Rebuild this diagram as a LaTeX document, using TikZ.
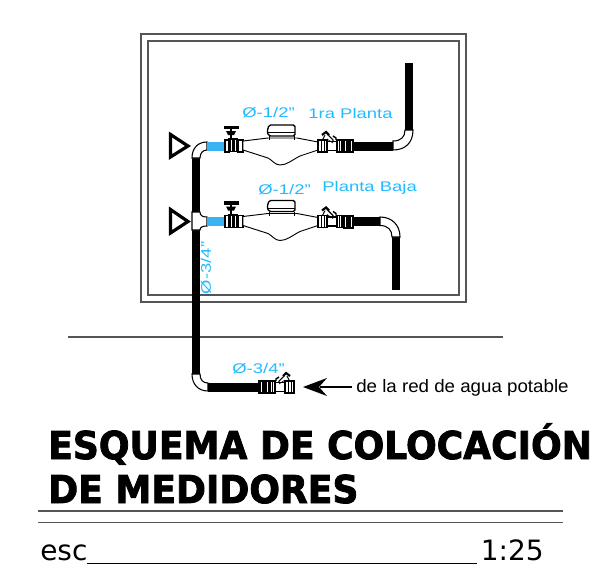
\documentclass[tikz,border=0pt]{standalone}
\usepackage{fontspec}
\setmainfont{Liberation Sans}
\newfontfamily\vfont{DejaVu Sans}
\newfontfamily\titlefont[FakeBold=2.2]{DejaVu Sans Bold}
\definecolor{cyanlabel}{HTML}{22BBFF}
\definecolor{cyanpipe}{HTML}{39B4F0}
\definecolor{rulegray}{HTML}{555555}
\tikzset{
  x=0.75pt,y=-0.75pt,
  thin line/.style={line width=0.7pt,black},
  fitting/.style={draw=black,fill=white,line width=0.8pt},
  pipeblack/.style={fill=black,draw=none},
  bluelabel/.style={text=cyanlabel,font=\fontsize{10.5}{11}\selectfont,inner sep=0pt,xscale=1.32},
  symbol/.style={draw=black,line width=2.4pt,miter limit=10,fill=white},
  pics/strainer/.style={code={
    \draw[fitting] (4,-5) -- (8,-13) -- (15,-6) -- (15,-4) -- (9,-4) -- cycle;
    \draw[fitting] (9,-4.5) rectangle (19,4.5);
    \draw[line width=0.5pt] (9,-7) -- (15,-3);
    \draw[fitting,line width=1.6pt] (4,-11) -- (8,-14) -- (11,-11);
    \draw[fitting,line width=1.1pt] (15,-10) -- (18,-8) -- (18,-6);
    \draw[fitting] (0,-6) rectangle (9,6);
    \draw[thin line] (3,-6) -- (3,6) (6,-6) -- (6,6);
    \draw[fitting] (19,-6) rectangle (24,6);
    \draw[thin line] (21.5,-6) -- (21.5,6);
    \fill[black] (25,-7) rectangle (36,7);
    \draw[white,line width=0.4pt] (27,-5) -- (27,5) (33,-5) -- (33,5);
  }},
  pics/meterset/.style={code={
    \fill[cyanpipe] (0,-4.5) rectangle (18,4.5);
    % gate valve
    \draw[fitting] (18,-6) rectangle (22,6);
    \fill[black] (21,-8) rectangle (31,6);
    \draw[white,line width=0.4pt] (24,-6) -- (24,5) (28,-6) -- (28,5);
    \draw[fitting] (31,-6) rectangle (36,6);
    \draw[line width=1.6pt] (24,-19) -- (24,-8);
    \fill[black] (19,-15) -- (29,-15) -- (27,-11) -- (21,-11) -- cycle;
    \draw[line width=2.4pt] (16.5,-18.5) -- (32,-18.5);
    % meter body
    \draw[thin line,fill=white] (36,-5) -- (61,-8) -- (90,-8) -- (111,-4) -- (111,4)
      -- (93,10) .. controls (85,14) and (80,19) .. (73,19)
      .. controls (68,19) and (65,14) .. (61,12) -- (36,4) -- cycle;
    % register
    \draw[thin line] (62,-10) -- (62,-6) (87,-10) -- (87,-6);
    \draw[fitting,line width=1pt,rounded corners=1.2pt] (62,-10) -- (60,-14) -- (62,-21) -- (88,-21) -- (88,-10) -- cycle;
    \draw[thin line] (61,-13.5) -- (88,-13.5);
    \pic at (111,0) {strainer};
  }}
}
\begin{document}
\begin{tikzpicture}
\useasboundingbox (0,0) rectangle (605,585);
\fill[white] (0,0) rectangle (605,585);
% room frame
\draw[rulegray,line width=0.8pt] (141,34) rectangle (466,302);
\draw[rulegray,line width=0.8pt] (148,41) rectangle (459,295);
% ground line
\draw[rulegray,line width=0.8pt] (68,337) -- (503,337);
% upper exit piping
\fill[pipeblack] (405,63) rectangle (413,130);
\draw[fitting] (393,141) .. controls (401,141) and (405,137) .. (405,130) -- (413,130)
  .. controls (413,143) and (405,150) .. (393,150) -- cycle;
\fill[pipeblack] (354,141.5) rectangle (393,150.5);
% lower exit piping
\fill[pipeblack] (392,237) rectangle (400,290);
\draw[fitting] (380,217) .. controls (392,217) and (400,225) .. (400,237) -- (392,237)
  .. controls (392,230) and (388,225.5) .. (380,225.5) -- cycle;
\fill[pipeblack] (354,217) rectangle (380,226);
% main riser
\fill[pipeblack] (192,158) rectangle (200,212);
\fill[pipeblack] (192,230) rectangle (200,374);
% upper elbow
\draw[fitting] (192,158) .. controls (192,148) and (198,142) .. (207,142) -- (207,150)
  .. controls (203,150) and (200,153) .. (200,158) -- cycle;
% tee
\draw[fitting] (192,212) -- (200,212) .. controls (200,216) and (203,217) .. (207,217)
  -- (207,226) .. controls (203,226) and (200,227) .. (200,230) -- (192,230) -- cycle;
% meter sets
\pic at (207,146) {meterset};
\pic at (207,221.5) {meterset};
% street connection
\draw[fitting] (192,374) -- (200,374) .. controls (200,380) and (203,383) .. (208,383)
  -- (208,391) .. controls (198,391) and (192,384) .. (192,374) -- cycle;
\fill[pipeblack] (208,382.5) rectangle (259,391.5);
\pic[xscale=-1] at (294,387) {strainer};
% valve symbols
\draw[symbol] (170.5,134.5) -- (188,146) -- (170.5,157) -- cycle;
\draw[symbol] (170.5,209.5) -- (188,221.5) -- (170.5,233) -- cycle;
% arrow
\coordinate (arrowend) at (352,387);
\coordinate (arrowtip) at (303,387);
\draw[black,line width=0.8pt] (arrowend) -- (320,387);
\fill (arrowtip) -- (327,378) -- (319,387) -- (327,396) -- cycle;
% labels
\node[bluelabel,anchor=west] at (242,113) {Ø-1/2"};
\node[bluelabel,anchor=west] at (308,113) {1ra Planta};
\node[bluelabel,anchor=west] at (258,190) {Ø-1/2"};
\node[bluelabel,anchor=west] at (322,188) {Planta Baja};
\node[bluelabel,anchor=west] at (232,369) {Ø-3/4"};
\node[text=cyanlabel,font=\fontsize{10.5}{11}\selectfont,inner sep=0pt,rotate=90,anchor=center,xscale=1.32] at (206,268) {Ø-3/4"};
\node[anchor=west,inner sep=0pt,font=\fontsize{13.5}{15}\selectfont,xscale=1.04] at (356,388) {de la red de agua potable};
% title
\node[anchor=base west,inner sep=0pt,font=\titlefont\fontsize{28.8}{30}\selectfont,xscale=0.94] at (48,459) {ESQUEMA DE COLOCACIÓN};
\node[anchor=base west,inner sep=0pt,font=\titlefont\fontsize{28.8}{30}\selectfont,xscale=0.94] at (48,503) {DE MEDIDORES};
\draw[rulegray,line width=0.8pt] (38,511) -- (563,511);
\draw[rulegray,line width=0.8pt] (38,522.5) -- (563,522.5);
\node[anchor=base west,inner sep=0pt,font=\vfont\fontsize{21}{23}\selectfont] at (40,560) {esc};
\draw[black,line width=0.75pt] (87,563) -- (477,563);
\node[anchor=base east,inner sep=0pt,font=\vfont\fontsize{21}{23}\selectfont] at (544,560) {1:25};
\end{tikzpicture}
\end{document}
